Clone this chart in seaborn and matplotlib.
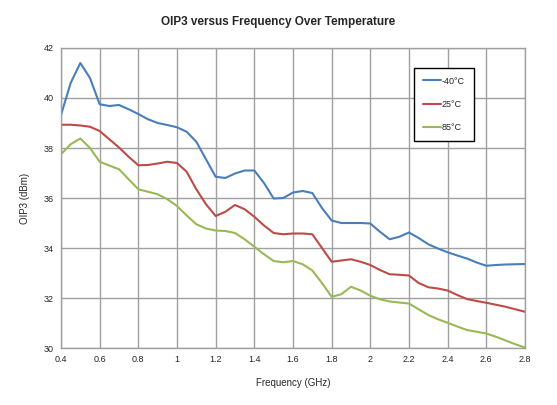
import numpy as np
import pandas as pd
import matplotlib
matplotlib.use('Agg')
import matplotlib.pyplot as plt
import seaborn as sns

# frequency grid (GHz)
freq = [0.40, 0.45, 0.50, 0.55, 0.60, 0.65, 0.70, 0.75, 0.80, 0.85,
        0.90, 0.95, 1.00, 1.05, 1.10, 1.15, 1.20, 1.25, 1.30, 1.35,
        1.40, 1.45, 1.50, 1.55, 1.60, 1.65, 1.70, 1.75, 1.80, 1.85,
        1.90, 1.95, 2.00, 2.05, 2.10, 2.15, 2.20, 2.25, 2.30, 2.35,
        2.40, 2.45, 2.50, 2.55, 2.60, 2.65, 2.70, 2.75, 2.80]

# OIP3 (dBm) per temperature
oip3_m40 = [39.32, 40.6, 41.4, 40.8, 39.75, 39.68, 39.72, 39.55, 39.36, 39.15,
            39.0, 38.92, 38.83, 38.65, 38.25, 37.55, 36.85, 36.8, 36.98, 37.1,
            37.1, 36.6, 35.98, 36.0, 36.22, 36.28, 36.2, 35.6, 35.1, 35.0,
            35.0, 35.0, 34.98, 34.65, 34.35, 34.45, 34.62, 34.4, 34.15, 33.98,
            33.83, 33.7, 33.58, 33.42, 33.29, 33.32, 33.34, 33.35, 33.36]
oip3_25 = [38.93, 38.93, 38.9, 38.85, 38.68, 38.35, 38.02, 37.65, 37.31, 37.32,
           37.38, 37.45, 37.4, 37.05, 36.35, 35.75, 35.28, 35.45, 35.72, 35.55,
           35.25, 34.9, 34.6, 34.55, 34.58, 34.58, 34.55, 34.0, 33.45, 33.5,
           33.55, 33.45, 33.32, 33.12, 32.95, 32.93, 32.9, 32.6, 32.43, 32.38,
           32.3, 32.12, 31.96, 31.88, 31.81, 31.73, 31.65, 31.55, 31.45]
oip3_85 = [37.75, 38.15, 38.38, 38.0, 37.45, 37.3, 37.15, 36.75, 36.35, 36.25,
           36.15, 35.95, 35.68, 35.3, 34.95, 34.78, 34.7, 34.68, 34.6, 34.35,
           34.05, 33.75, 33.48, 33.43, 33.48, 33.35, 33.1, 32.6, 32.05, 32.15,
           32.45, 32.3, 32.09, 31.95, 31.86, 31.82, 31.78, 31.55, 31.32, 31.15,
           31.01, 30.86, 30.72, 30.65, 30.58, 30.45, 30.3, 30.15, 30.02]

temps = ['-40°C', '25°C', '85°C']
colors = ['#4a7ebb', '#be4b48', '#98b954']

df = pd.concat([
    pd.DataFrame({'freq': freq, 'oip3': oip3_m40, 'temp': temps[0]}),
    pd.DataFrame({'freq': freq, 'oip3': oip3_25, 'temp': temps[1]}),
    pd.DataFrame({'freq': freq, 'oip3': oip3_85, 'temp': temps[2]}),
])

sns.set_style('white')
plt.rcParams['font.family'] = ['Liberation Sans', 'DejaVu Sans']

fig = plt.figure(figsize=(5.57, 4.05), dpi=100)
ax = fig.add_axes([0.1095, 0.1407, 0.833, 0.7408])

sns.lineplot(data=df, x='freq', y='oip3', hue='temp', palette=colors,
             linewidth=1.5, ax=ax)
for ln in ax.get_lines():
    ln.set_solid_joinstyle('round')

ax.set_xlim(0.4, 2.8)
ax.set_ylim(30, 42)
ax.set_xticks(np.arange(0.4, 2.81, 0.2))
ax.set_xticklabels(['0.4', '0.6', '0.8', '1', '1.2', '1.4', '1.6', '1.8',
                    '2', '2.2', '2.4', '2.6', '2.8'])
ax.set_yticks(np.arange(30, 43, 2))
ax.tick_params(length=0, labelsize=6.5, pad=5)
ax.grid(True, color='#a0a0a0', linewidth=1)
for s in ax.spines.values():
    s.set_color('#a0a0a0')
    s.set_linewidth(1)

ax.set_xlabel('Frequency (GHz)', fontsize=7, labelpad=10)
ax.set_ylabel('OIP3 (dBm)', fontsize=7, labelpad=10)
fig.suptitle('OIP3 versus Frequency Over Temperature', fontsize=8.5,
             fontweight='bold', y=0.96)

leg = ax.legend(loc='upper right', bbox_to_anchor=(0.899, 0.95), fontsize=6.5,
                handlelength=2.0, labelspacing=1.6, borderpad=1.0,
                handletextpad=0.1, fancybox=False, framealpha=1)
leg.get_frame().set_edgecolor('black')
leg.get_frame().set_linewidth(1)

fig.savefig('out.png', dpi=100)
